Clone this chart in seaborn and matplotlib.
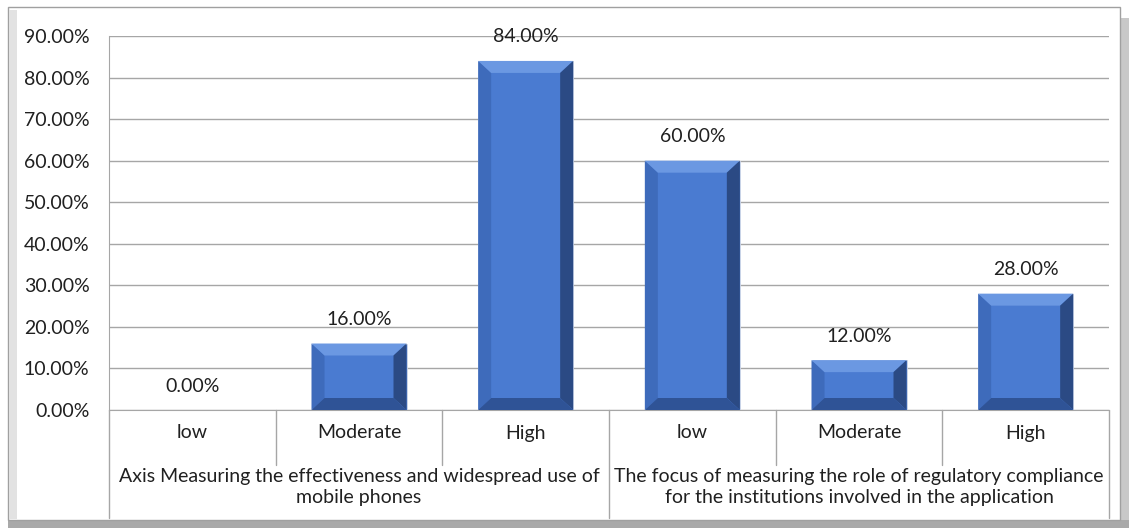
import matplotlib
matplotlib.use("Agg")
import matplotlib.pyplot as plt
import seaborn as sns
import pandas as pd
from matplotlib.patches import Polygon, Rectangle
from matplotlib.transforms import blended_transform_factory

# data
groups = [
    "Axis Measuring the effectiveness and widespread use of\nmobile phones",
    "The focus of measuring the role of regulatory compliance\nfor the institutions involved in the application",
]
levels = ["low", "Moderate", "High"]
values_group1 = [0.0, 16.0, 84.0]
values_group2 = [60.0, 12.0, 28.0]
y_ticks = [0, 10, 20, 30, 40, 50, 60, 70, 80, 90]

rows = []
for gi, vals in enumerate([values_group1, values_group2]):
    for lv, v in zip(levels, vals):
        rows.append({"slot": f"{gi}-{lv}", "group": gi, "level": lv, "value": v})
df = pd.DataFrame(rows)

sns.set_style("white")
plt.rcParams["font.family"] = ["Lato", "DejaVu Sans"]
FS = 14

W, H = 1129, 528
fig = plt.figure(figsize=(W / 100, H / 100), dpi=100)
fig.patch.set_facecolor("white")

# outer chart frame with soft bevel shading
frame = [
    ((1120, 0), 9, 510, "#c8c8c8", "none"),
    ((8, 0), 1121, 8, "#a9a9a9", "none"),
    ((8, 8), 1112, 513, "white", "#a0a0a0"),
    ((9, 9), 8, 509, "#e2e2e2", "none"),
]
for (fx, fy), fw, fh, fc, ec in frame:
    fig.patches.append(Rectangle((fx / W, fy / H), fw / W, fh / H, transform=fig.transFigure,
                                 facecolor=fc, edgecolor=ec, linewidth=1.0, zorder=-5))

ax = fig.add_axes([109 / W, (H - 410) / H, 1000 / W, (410 - 36) / H])
ax.set_facecolor("none")
ax.set_zorder(2)

sns.barplot(data=df, x="slot", y="value", color="#4a7bd1", width=0.57,
            saturation=1, ax=ax, zorder=3, edgecolor="#d0d8e8", linewidth=0.6)

ax.set_ylim(0, 90)
ax.set_xlim(-0.5, 5.5)
ax.set_yticks(y_ticks)
ax.set_yticklabels([f"{v:.2f}%" for v in y_ticks], fontsize=FS, color="#202020")
ax.tick_params(axis="y", length=0, pad=14)
ax.set_xticks([])
ax.set_xlabel("")
ax.set_ylabel("")
ax.grid(axis="y", color="#a6a6a6", linewidth=1.0, zorder=0)
for s in ["top", "right"]:
    ax.spines[s].set_visible(False)
ax.spines["left"].set_color("#a6a6a6")
ax.spines["bottom"].set_color("#a6a6a6")

# bevel effect on each bar
px_x = 1 / (1000 / 6)      # data units per pixel (x)
px_y = 90 / 374            # data units per pixel (y)
for p in list(ax.patches):
    x0, w, h = p.get_x(), p.get_width(), p.get_height()
    if h <= 0:
        continue
    x1 = x0 + w
    bx = min(13 * px_x, w / 2)
    by = min(12 * px_y, h / 2)
    faces = [
        ([(x0, 0), (x0 + bx, by), (x0 + bx, h - by), (x0, h)], "#3e6bbb"),
        ([(x0, h), (x0 + bx, h - by), (x1 - bx, h - by), (x1, h)], "#6b98e2"),
        ([(x1, h), (x1 - bx, h - by), (x1 - bx, by), (x1, 0)], "#2b4a84"),
        ([(x0, 0), (x0 + bx, by), (x1 - bx, by), (x1, 0)], "#2f5396"),
    ]
    for pts, col in faces:
        ax.add_patch(Polygon(pts, closed=True, facecolor=col, edgecolor="none", zorder=4))

# data labels
for i, v in enumerate(df["value"]):
    ax.annotate(f"{v:.2f}%", (i, v), xytext=(0, 24 * 0.72), textcoords="offset points",
                ha="center", va="center", fontsize=FS, color="#202020", zorder=5)

# multi-level category axis
tr = blended_transform_factory(ax.transData, ax.transAxes)
ax_h = 374
for i, lv in enumerate(df["level"]):
    ax.text(i, -23 / ax_h, lv, transform=tr, ha="center", va="center",
            fontsize=FS, color="#202020")
for gi, g in enumerate(groups):
    ax.text(gi * 3 + 1, -77 / ax_h, g, transform=tr, ha="center", va="center",
            fontsize=FS, color="#202020", linespacing=1.3)
for xb in [0.5, 1.5, 3.5, 4.5]:
    ax.plot([xb, xb], [0, -55 / ax_h], transform=tr, color="#a6a6a6",
            linewidth=1.0, clip_on=False)
for xb in [-0.5, 2.5, 5.5]:
    ax.plot([xb, xb], [0, -108 / ax_h], transform=tr, color="#a6a6a6",
            linewidth=1.0, clip_on=False)

fig.savefig("out.png", dpi=100)
